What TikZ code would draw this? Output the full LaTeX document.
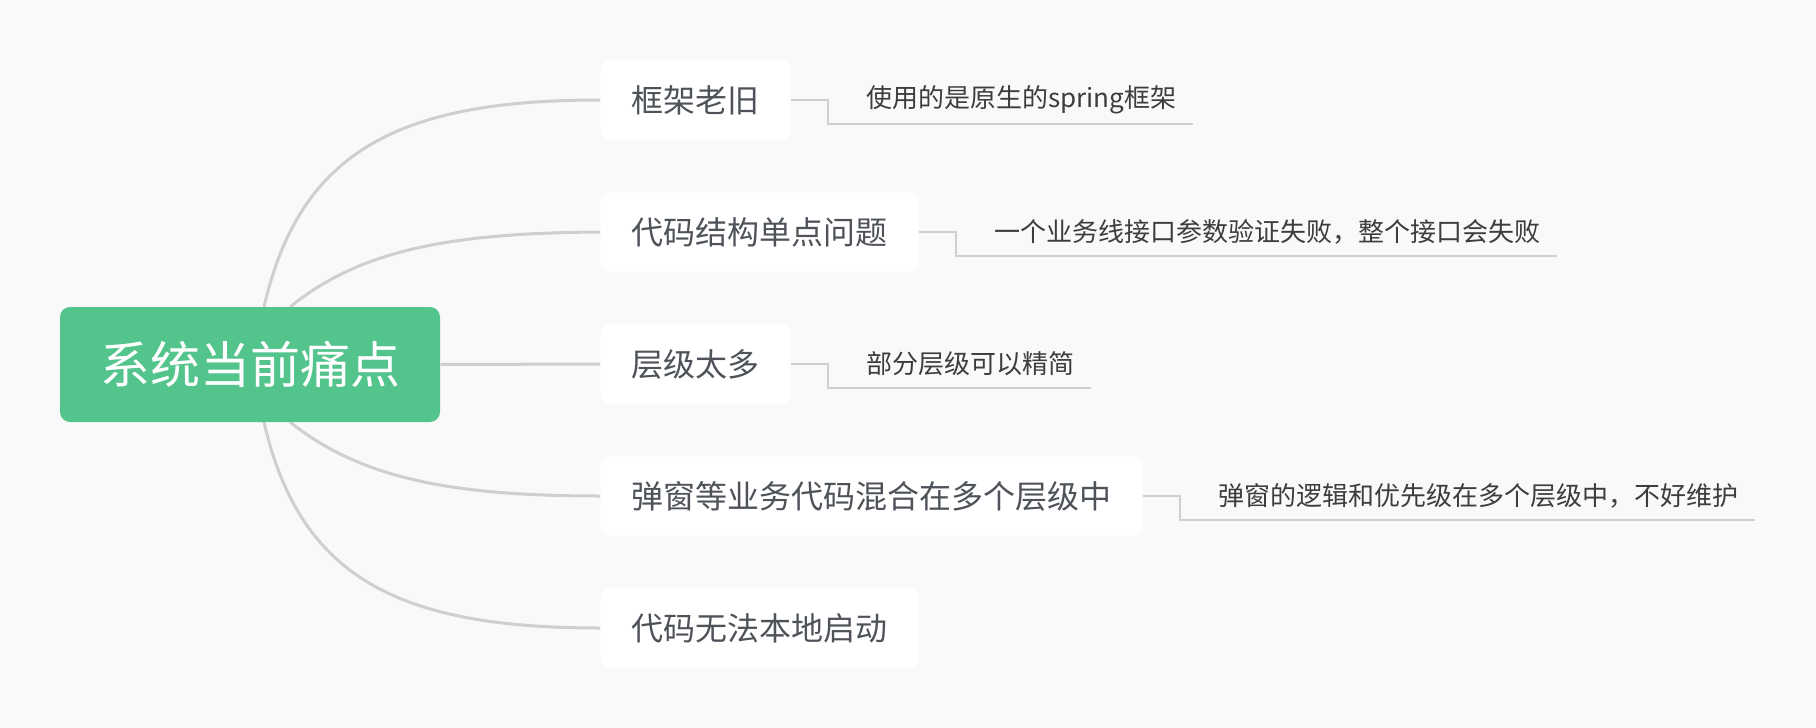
\documentclass[tikz,border=0pt]{standalone}
\usepackage{fontspec}
\setmainfont{Noto Sans CJK SC}
\usepackage{xcolor}
\usepackage{tikz}
\usetikzlibrary{arrows.meta,positioning}

\definecolor{bgcol}{HTML}{F9F9F9}
\definecolor{rootcol}{HTML}{52C48C}
\definecolor{linecol}{HTML}{CFCFCF}
\definecolor{textcol}{HTML}{4E5259}
\definecolor{leafcol}{HTML}{3D3D3D}

\begin{document}
\begin{tikzpicture}[
  x=0.5pt,
  y=-0.5pt,
  rootbox/.style={fill=rootcol, rounded corners=5pt, text=white, font=\fontsize{25pt}{28pt}\selectfont,
    inner xsep=20pt, inner ysep=0pt, minimum height=57.5pt},
  branch/.style={fill=white, rounded corners=4pt, text=textcol, font=\fontsize{16pt}{19pt}\selectfont,
    inner xsep=15.5pt, inner ysep=0pt, minimum height=39.5pt, anchor=west},
  leaf/.style={text=leafcol, font=\fontsize{13pt}{16pt}\selectfont,
    inner xsep=8pt, inner ysep=0pt, minimum height=24pt},
  curve/.style={linecol, line width=1.5pt},
  elbow/.style={linecol, line width=1pt}
]
  \fill[bgcol] (0,0) rectangle (1816,728);

  \node[branch] (b1) at (600,100) {框架老旧};
  \node[branch] (b2) at (600,232) {代码结构单点问题};
  \node[branch] (b3) at (600,364) {层级太多};
  \node[branch] (b4) at (600,496) {弹窗等业务代码混合在多个层级中};
  \node[branch] (b5) at (600,628) {代码无法本地启动};

  \node[leaf, right=29.5pt of b1] (l1) {使用的是原生的spring框架};
  \node[leaf, right=29.5pt of b2] (l2) {一个业务线接口参数验证失败，整个接口会失败};
  \node[leaf, right=29.5pt of b3] (l3) {部分层级可以精简};
  \node[leaf, right=29.5pt of b4] (l4) {弹窗的逻辑和优先级在多个层级中，不好维护};

  % curves from the root, drawn under it
  \draw[curve] ([xshift=7pt]250,307) .. controls (300,150) and (400,100) .. (b1.west);
  \draw[curve] ([xshift=20pt]250,307) .. controls (360,250) and (450,233) .. (b2.west);
  \draw[curve] ([xshift=20pt]250,422) .. controls (360,478) and (450,496) .. (b4.west);
  \draw[curve] ([xshift=7pt]250,422) .. controls (300,579) and (400,628) .. (b5.west);

  \node[rootbox] (root) at (250,364.5) {系统当前痛点};
  \draw[curve] (root.east) -- (b3.west);

  \foreach \b/\l in {b1/l1,b2/l2,b3/l3,b4/l4} {
    \draw[elbow] (\b.east) -- ++(37,0) |- (\l.south east);
  }
\end{tikzpicture}
\end{document}
